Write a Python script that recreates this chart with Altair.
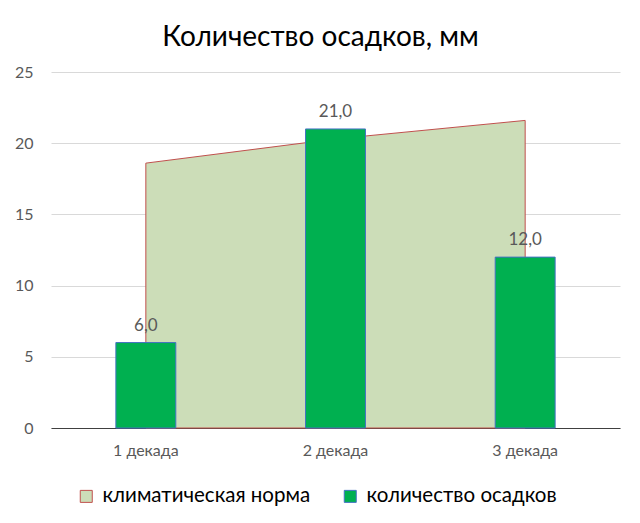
import altair as alt
import pandas as pd

categories = ["1 декада", "2 декада", "3 декада"]
norm = [18.6, 20.3, 21.6]
precip = [6.0, 21.0, 12.0]
series = ["климатическая норма", "количество осадков"]
y_ticks = [0, 5, 10, 15, 20, 25]

df_norm = pd.DataFrame({"cat": categories, "v": norm, "s": series[0]})
df_bar = pd.DataFrame({"cat": categories, "v": precip, "s": series[1]})

x = alt.X(
    "cat:N", sort=categories, title=None,
    scale=alt.Scale(paddingInner=0.684, paddingOuter=0.342),
    axis=alt.Axis(labelAngle=0, ticks=False, domainColor="#404040", domainWidth=1.2,
                  labelColor="#595959", labelFontSize=16, labelPadding=14, grid=False),
)
y = alt.Y(
    "v:Q", title=None, scale=alt.Scale(domain=[0, 25]),
    axis=alt.Axis(values=y_ticks, ticks=False, domain=False, gridColor="#D9D9D9",
                  labelColor="#595959", labelFontSize=16, labelPadding=18),
)
leg = alt.Legend(
    title=None, orient="none", legendX=25, legendY=414, direction="horizontal",
    symbolType="square", symbolSize=144, symbolStrokeWidth=1, labelLimit=0,
    labelFontSize=20.5, labelColor="#000000", labelOffset=6, columnPadding=29,
)
color = alt.Color("s:N", scale=alt.Scale(domain=series, range=["#CCDDB8", "#00B050"]), legend=leg)
stroke = alt.Stroke("s:N", scale=alt.Scale(domain=series, range=["#C0504D", "#4472C4"]), legend=leg)

area = alt.Chart(df_norm).mark_area(strokeWidth=1).encode(x=x, y=y, color=color, stroke=stroke)
bars = alt.Chart(df_bar).mark_bar(strokeWidth=1).encode(x=x, y=y, color=color, stroke=stroke)
labels = alt.Chart(df_bar).transform_calculate(
    lab="replace(format(datum.v, '.1f'), '.', ',')"
).mark_text(baseline="bottom", dy=-8, fontSize=17, color="#595959").encode(x=x, y=y, text="lab:N")

chart = alt.layer(area, bars, labels).properties(
    width=569, height=356,
    title=alt.TitleParams("Количество осадков, мм", fontSize=28, fontWeight="normal",
                          color="#000000", anchor="middle", offset=12, dx=-15),
    autosize=alt.AutoSizeParams(type="none"),
    padding={"left": 43, "top": 64, "right": 12, "bottom": 90},
).configure(font="Lato").configure_view(stroke=None)

chart.save("out.html", embed_options={"renderer": "svg", "actions": False})
